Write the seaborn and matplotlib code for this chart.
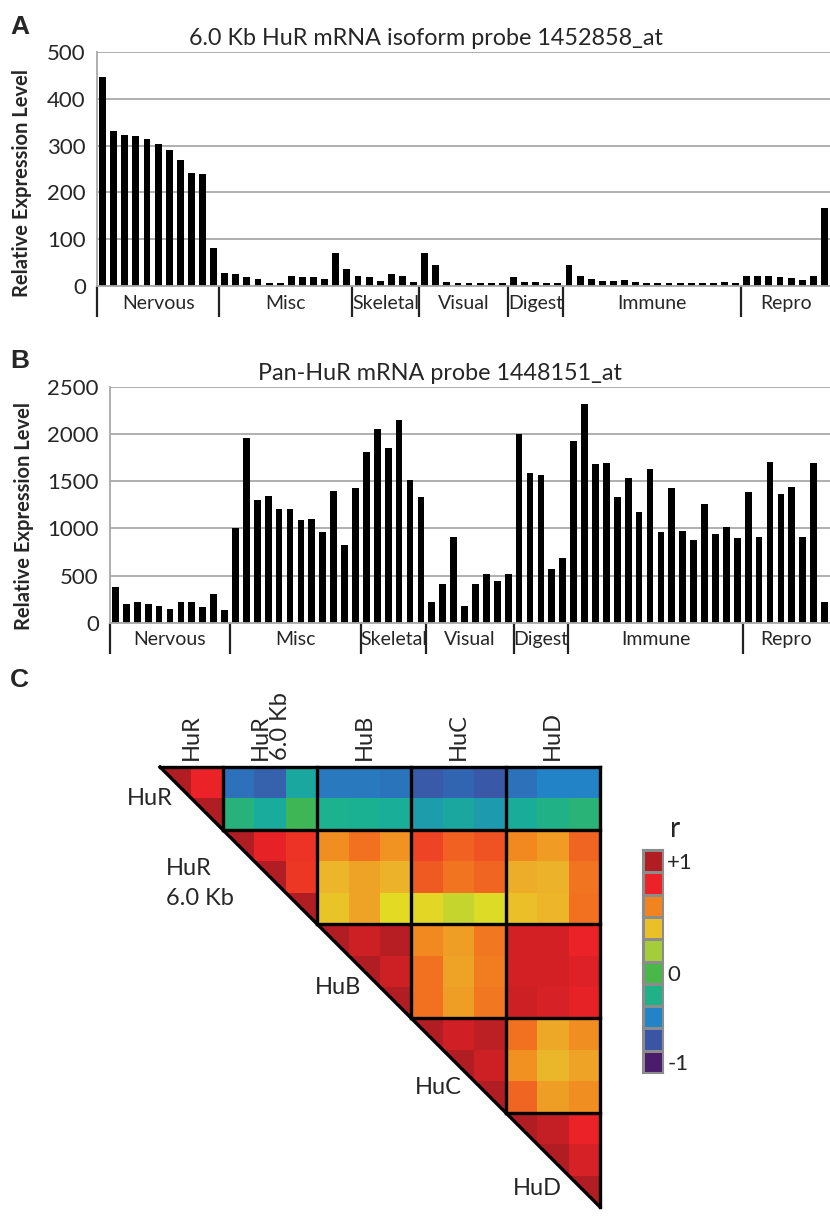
import numpy as np
import pandas as pd
import matplotlib
matplotlib.use('Agg')
import matplotlib.pyplot as plt
from matplotlib.colors import LinearSegmentedColormap
from matplotlib.patches import Polygon
import seaborn as sns

# --- Data ---
tissue_groups = ['Nervous', 'Misc', 'Skeletal', 'Visual', 'Digest', 'Immune', 'Repro']
group_sizes = [11, 12, 6, 8, 5, 16, 8]

hur_6kb_levels = [447, 332, 322, 320, 315, 303, 291, 270, 241, 239, 82,
                  28, 26, 19, 15, 7, 7, 21, 19, 19, 15, 72, 36,
                  23, 19, 12, 26, 21, 10,
                  72, 45, 10, 6, 6, 6, 6, 6,
                  19, 10, 9, 6, 6,
                  45, 22, 15, 12, 12, 13, 10, 7, 7, 7, 7, 7, 7, 8, 10, 7,
                  21, 22, 22, 19, 17, 13, 22, 167]

pan_hur_levels = [381, 194, 215, 194, 180, 148, 215, 215, 170, 300, 134,
                  1000, 1953, 1300, 1345, 1204, 1204, 1088, 1098, 957, 1395, 823, 1430,
                  1811, 2048, 1847, 2147, 1511, 1335,
                  215, 406, 907, 180, 406, 515, 441, 515,
                  1995, 1582, 1561, 565, 681,
                  1928, 2316, 1677, 1688, 1335, 1536, 1169, 1628, 964, 1430, 975, 872, 1254, 943, 1013, 893,
                  1381, 907, 1702, 1360, 1441, 907, 1688, 215]

# correlation matrix, upper triangle only (each row starts at the diagonal)
gene_labels = ['HuR', 'HuR\n6.0 Kb', 'HuB', 'HuC', 'HuD']
probes_per_gene = [2, 3, 3, 3, 3]
corr_upper = [
    [1.0, 0.8, -0.6, -0.68, -0.3, -0.56, -0.56, -0.58, -0.72, -0.66, -0.73, -0.6, -0.5, -0.5],
    [1.0, -0.17, -0.28, -0.04, -0.23, -0.24, -0.26, -0.36, -0.3, -0.37, -0.27, -0.2, -0.15],
    [1.0, 0.82, 0.76, 0.57, 0.64, 0.55, 0.73, 0.67, 0.7, 0.58, 0.53, 0.66],
    [1.0, 0.75, 0.45, 0.5, 0.46, 0.68, 0.63, 0.66, 0.47, 0.46, 0.63],
    [1.0, 0.4, 0.5, 0.33, 0.35, 0.27, 0.32, 0.42, 0.45, 0.64],
    [1.0, 0.9, 0.97, 0.58, 0.52, 0.62, 0.88, 0.88, 0.8],
    [1.0, 0.9, 0.64, 0.5, 0.61, 0.88, 0.88, 0.85],
    [1.0, 0.64, 0.52, 0.62, 0.9, 0.87, 0.82],
    [1.0, 0.89, 0.96, 0.64, 0.49, 0.57],
    [1.0, 0.9, 0.56, 0.44, 0.5],
    [1.0, 0.66, 0.52, 0.57],
    [1.0, 0.93, 0.8],
    [1.0, 0.87],
    [1.0],
]

# colour scale anchors (r value, colour)
r_anchor_values = [-1.0, -0.75, -0.5, -0.25, 0.0, 0.2, 0.33, 0.45, 0.6, 0.8, 1.0]
r_anchor_colors = ['#4a1c6c', '#3b55a5', '#2284c6', '#18b095', '#47b749', '#a3cd3a',
                   '#e3dc23', '#ecb52a', '#f2841f', '#ec2227', '#b01e23']
cbar_levels = [1.0, 0.8, 0.6, 0.42, 0.2, 0.0, -0.2, -0.5, -0.75, -1.0]

# --- Style ---
sns.set_style('white')
plt.rcParams['font.family'] = ['Lato', 'DejaVu Sans']

W, H = 830, 1217
fig = plt.figure(figsize=(W / 100, H / 100), dpi=100)


def frac_box(left, top, right, bottom):
    # pixel box -> figure fraction rect
    return [left / W, 1 - bottom / H, (right - left) / W, (bottom - top) / H]


def draw_expression_panel(ax, levels, ymax, ystep, title, title_x):
    df = pd.DataFrame({'sample': np.arange(len(levels)), 'level': levels})
    sns.barplot(data=df, x='sample', y='level', color='black', saturation=1,
                width=0.62, linewidth=0, ax=ax)
    n = len(levels)
    ax.set_xlim(-0.5, n - 0.5)
    ax.set_ylim(0, ymax)
    ax.set_yticks(np.arange(0, ymax + 1, ystep))
    ax.yaxis.grid(True, color='#a9a9a9', lw=1.3)
    ax.set_axisbelow(True)
    ax.set_xlabel('')
    ax.set_ylabel('')
    for side in ['top', 'right']:
        ax.spines[side].set_visible(False)
    for side in ['left', 'bottom']:
        ax.spines[side].set_color('#a9a9a9')
        ax.spines[side].set_linewidth(1.3)
    ax.tick_params(axis='y', length=5, width=1.3, color='#a9a9a9', labelsize=16, pad=3)

    # group labels at the centre of each tissue group
    bounds = np.concatenate([[0], np.cumsum(group_sizes)])
    centers = (bounds[:-1] + bounds[1:]) / 2 - 0.5
    ax.set_xticks(centers)
    ax.set_xticklabels(tissue_groups, fontsize=14)
    ax.tick_params(axis='x', which='major', length=0, pad=6)
    # small ticks between bars
    ax.set_xticks(np.arange(0.5, n - 1, 1), minor=True)
    ax.tick_params(axis='x', which='minor', length=4, width=1, color='#a9a9a9')
    # long separators between groups
    sep = ax.secondary_xaxis('bottom')
    sep.set_xticks(bounds[:-1] - 0.5)
    sep.set_xticklabels([])
    sep.tick_params(length=22, width=1.6, color='#222222')
    sep.spines['bottom'].set_visible(False)

    ax.text(title_x, 1.03, title, transform=ax.transAxes, ha='center', va='baseline',
            fontsize=16.8)


# --- Panel A ---
ax_a = fig.add_axes(frac_box(97, 51.7, 830, 286.3))
draw_expression_panel(ax_a, hur_6kb_levels, 500, 100,
                      '6.0 Kb HuR mRNA isoform probe 1452858_at', 0.449)
fig.text(22 / W, 1 - 183 / H, 'Relative Expression Level', rotation=90,
         ha='center', va='center', fontsize=14.5, fontweight='bold')
fig.text(10 / W, 1 - 27 / H, 'A', ha='left', va='center', fontsize=19,
         fontweight='bold', family='Liberation Sans')

# --- Panel B ---
ax_b = fig.add_axes(frac_box(110, 386.7, 830, 622.7))
draw_expression_panel(ax_b, pan_hur_levels, 2500, 500,
                      'Pan-HuR mRNA probe 1448151_at', 0.458)
fig.text(24 / W, 1 - 516 / H, 'Relative Expression Level', rotation=90,
         ha='center', va='center', fontsize=14.5, fontweight='bold')
fig.text(10 / W, 1 - 361 / H, 'B', ha='left', va='center', fontsize=19,
         fontweight='bold', family='Liberation Sans')

# --- Panel C: triangular correlation map ---
n = sum(probes_per_gene)
corr = np.full((n, n), np.nan)
for i, row in enumerate(corr_upper):
    corr[i, i:] = row

hu_cmap = LinearSegmentedColormap.from_list(
    'hu_r', [((v + 1) / 2, c) for v, c in zip(r_anchor_values, r_anchor_colors)])

ax_c = fig.add_axes(frac_box(160, 767, 600, 1207))
sns.heatmap(corr, mask=np.isnan(corr), cmap=hu_cmap, vmin=-1, vmax=1, cbar=False,
            xticklabels=False, yticklabels=False, ax=ax_c)
# cut the diagonal cells in half
ax_c.add_patch(Polygon([[0, 0], [0, n], [n, n]], closed=True, facecolor='white',
                       edgecolor='none', zorder=3, clip_on=False))
lw_block = 2.4
ax_c.plot([0, n], [0, n], color='black', lw=lw_block, zorder=4, clip_on=False,
          solid_capstyle='projecting')
edges = np.concatenate([[0], np.cumsum(probes_per_gene)])
for b in edges:
    ax_c.plot([b, b], [0, b], color='black', lw=lw_block, zorder=4, clip_on=False,
              solid_capstyle='projecting')
    ax_c.plot([b, n], [b, b], color='black', lw=lw_block, zorder=4, clip_on=False,
              solid_capstyle='projecting')

# column labels on top
centers_c = (edges[:-1] + edges[1:]) / 2
for cx, lab in zip(centers_c, gene_labels):
    ax_c.text(cx, -0.22, lab, rotation=90, ha='center', va='bottom',
              multialignment='left', fontsize=17, linespacing=0.95, clip_on=False)

# row labels along the diagonal
row_label_y = [1.0, 3.7, 7.0, 10.2, 13.4]
for ry, lab in zip(row_label_y, gene_labels):
    shift = 1.35 if '\n' in lab else 0.6
    ax_c.text(ry - shift, ry, lab, ha='right', va='center', multialignment='left',
              fontsize=17, linespacing=1.5, clip_on=False)

fig.text(10 / W, 1 - 680 / H, 'C', ha='left', va='center', fontsize=19,
         fontweight='bold', family='Liberation Sans')

# --- colour key ---
ax_cb = fig.add_axes(frac_box(643, 850, 663, 850 + 22.3 * len(cbar_levels)))
sns.heatmap(np.array(cbar_levels).reshape(-1, 1), cmap=hu_cmap, vmin=-1, vmax=1,
            cbar=False, linewidths=0.8, linecolor='#8c8c8c',
            xticklabels=False, yticklabels=False, ax=ax_cb)
for sp in ax_cb.spines.values():
    sp.set_visible(True)
    sp.set_color('#8c8c8c')
    sp.set_linewidth(1.5)
ax_cb.yaxis.tick_right()
ax_cb.set_yticks([0.5, 5.5, len(cbar_levels) - 0.5])
ax_cb.set_yticklabels(['+1', '0', '-1'], fontsize=16)
ax_cb.tick_params(axis='y', length=0, pad=3)
ax_cb.text(1.6, -0.35, 'r', ha='center', va='bottom', fontsize=20, clip_on=False)

fig.savefig('out.png', dpi=100)
